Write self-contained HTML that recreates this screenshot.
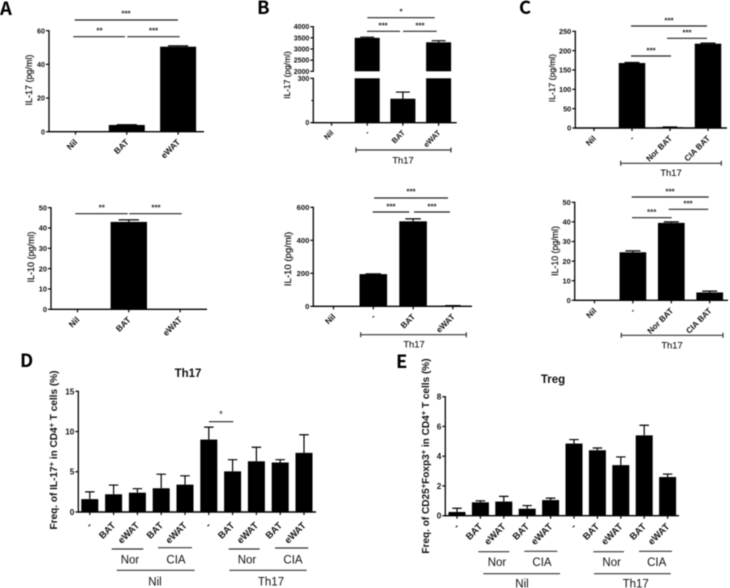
<!DOCTYPE html>
<html lang="en">
<head>
<meta charset="utf-8">
<title>Cytokine bar chart figure</title>
<style>
html,body{margin:0;padding:0;background:#fff;}
body{width:730px;height:588px;overflow:hidden;}
svg{display:block;filter:blur(0.4px);font-family:"Liberation Sans",sans-serif;}
.panel{font-family:"Noto Sans CJK KR","Liberation Sans",sans-serif;font-size:18.5px;font-weight:700;fill:#000;}
.ytitle{font-size:9px;fill:#111;text-anchor:middle;stroke:#111;stroke-width:0.2;}
.ytitle-big{font-size:10.05px;font-weight:700;fill:#111;text-anchor:middle;}
.star{font-size:8px;font-weight:700;fill:#333;text-anchor:middle;}
.group{font-size:11.5px;fill:#111;text-anchor:middle;}
.group-sm{font-size:9.4px;fill:#111;text-anchor:middle;stroke:#111;stroke-width:0.1;}
.chart-title{font-size:11.5px;font-weight:700;fill:#111;text-anchor:middle;}
.sig{stroke:#222;stroke-width:1.2;}
.grp{stroke:#333;stroke-width:1.2;}
</style>
</head>
<body>
<svg id="figure" width="730" height="588" viewBox="0 0 730 588" xmlns="http://www.w3.org/2000/svg">
<rect width="730" height="588" fill="#fff"/>

<text class="panel" x="0" y="15">A</text>
<text class="panel" x="257" y="14">B</text>
<text class="panel" x="519" y="14">C</text>
<text class="panel" x="20" y="367">D</text>
<text class="panel" x="396" y="368">E</text>

<text class="ytitle" style="font-size:9px" transform="translate(32,80) rotate(-90)">IL-17 (pg/ml)</text>
<text class="ytitle" style="font-size:9px" transform="translate(34,257) rotate(-90)">IL-10 (pg/ml)</text>
<text class="ytitle" style="font-size:8.4px" transform="translate(290,75) rotate(-90)">IL-17 (pg/ml)</text>
<text class="ytitle" style="font-size:9.6px" transform="translate(291,259) rotate(-90)">IL-10 (pg/ml)</text>
<text class="ytitle" style="font-size:8.5px" transform="translate(555,78) rotate(-90)">IL-17 (pg/ml)</text>
<text class="ytitle" style="font-size:8.8px" transform="translate(558,251) rotate(-90)">IL-10 (pg/ml)</text>
<text class="ytitle-big" transform="translate(57,450) rotate(-90)">Freq. of IL-17<tspan dy="-3" font-size="7.5">+</tspan><tspan dy="3"> in CD4</tspan><tspan dy="-3" font-size="7.5">+</tspan><tspan dy="3"> T cells (%)</tspan></text>
<text class="ytitle-big" transform="translate(429,456) rotate(-90)">Freq. of CD25<tspan dy="-3" font-size="7.5">+</tspan><tspan dy="3">Foxp3</tspan><tspan dy="-3" font-size="7.5">+</tspan><tspan dy="3"> in CD4</tspan><tspan dy="-3" font-size="7.5">+</tspan><tspan dy="3"> T cells (%)</tspan></text>

<text class="chart-title" x="188" y="377">Th17</text>
<text class="chart-title" x="553" y="383">Treg</text>

<g>
<line class="sig" x1="74.7" x2="178" y1="20" y2="20"/><text class="star" x="126" y="16.5">***</text>
<line class="sig" x1="73.3" x2="125" y1="36.7" y2="36.7"/><text class="star" x="99.5" y="33.5">**</text>
<line class="sig" x1="127.3" x2="179.7" y1="36.7" y2="36.7"/><text class="star" x="153.5" y="33.5">***</text>
</g>
<g>
<line class="sig" x1="75.3" x2="127.7" y1="213.7" y2="213.7"/><text class="star" x="101.7" y="210.5">**</text>
<line class="sig" x1="129.3" x2="181.7" y1="213.7" y2="213.7"/><text class="star" x="156" y="210.5">***</text>
</g>
<g>
<line class="sig" x1="367.3" x2="434.7" y1="17.7" y2="17.7"/><text class="star" x="401" y="14.5">*</text>
<line class="sig" x1="367" x2="400" y1="31.3" y2="31.3"/><text class="star" x="383" y="28.5">***</text>
<line class="sig" x1="403" x2="436.7" y1="31.3" y2="31.3"/><text class="star" x="420" y="28.5">***</text>
</g>
<g>
<line class="sig" x1="374" x2="448" y1="198" y2="198"/><text class="star" x="411" y="194.5">***</text>
<line class="sig" x1="372.7" x2="409.3" y1="212" y2="212"/><text class="star" x="391" y="209.5">***</text>
<line class="sig" x1="414" x2="450" y1="212" y2="212"/><text class="star" x="432" y="209.5">***</text>
</g>
<g>
<line class="sig" x1="631" x2="707" y1="26" y2="26"/><text class="star" x="669" y="23.5">***</text>
<line class="sig" x1="667" x2="707" y1="38.3" y2="38.3"/><text class="star" x="687" y="35.5">***</text>
<line class="sig" x1="631" x2="671" y1="56" y2="56"/><text class="star" x="651" y="53.5">***</text>
</g>
<g>
<line class="sig" x1="631.7" x2="708.7" y1="197" y2="197"/><text class="star" x="670" y="194.5">***</text>
<line class="sig" x1="668.7" x2="708.3" y1="209.3" y2="209.3"/><text class="star" x="688" y="206.5">***</text>
<line class="sig" x1="632" x2="671.7" y1="217.7" y2="217.7"/><text class="star" x="651.7" y="215">***</text>
</g>
<g>
<line class="sig" x1="209" x2="233.3" y1="421.7" y2="421.7"/><text class="star" x="221" y="417.5" style="font-size:10px;font-weight:400">*</text>
</g>

<g>
<path class="grp" fill="none" d="M356 147.5V152.5M356 150H451M451 147.5V152.5"/><text class="group-sm" x="403" y="163.5">Th17</text>
</g>
<g>
<path class="grp" fill="none" d="M360.7 332.2V337.2M360.7 334.7H466.3M466.3 332.2V337.2"/><text class="group-sm" x="414" y="347.5">Th17</text>
</g>
<g>
<path class="grp" fill="none" d="M620.7 160.8V165.8M620.7 163.3H721.3M721.3 160.8V165.8"/><text class="group-sm" x="671" y="176">Th17</text>
</g>
<g>
<path class="grp" fill="none" d="M621.3 332.8V337.8M621.3 335.3H723M723 332.8V337.8"/><text class="group-sm" x="672" y="348.5">Th17</text>
</g>

<g>
<line class="grp" x1="111.7" x2="143.3" y1="549" y2="549"/><text class="group" x="130" y="563.5">Nor</text>
<line class="grp" x1="158" x2="192" y1="547.7" y2="547.7"/><text class="group" x="176" y="563.5">CIA</text>
<line class="grp" x1="116.7" x2="194.7" y1="570.3" y2="570.3"/><text class="group" x="155" y="585.5">Nil</text>
<line class="grp" x1="228.7" x2="259.7" y1="549" y2="549"/><text class="group" x="247" y="563.5">Nor</text>
<line class="grp" x1="275" x2="308.3" y1="548" y2="548"/><text class="group" x="293" y="563.5">CIA</text>
<line class="grp" x1="229.3" x2="306.7" y1="570.3" y2="570.3"/><text class="group" x="271" y="585.5">Th17</text>
</g>
<g>
<line class="grp" x1="478.3" x2="509.3" y1="551.7" y2="551.7"/><text class="group" x="497" y="566">Nor</text>
<line class="grp" x1="524.3" x2="557.3" y1="551.3" y2="551.3"/><text class="group" x="542" y="566">CIA</text>
<line class="grp" x1="483.3" x2="560" y1="573.7" y2="573.7"/><text class="group" x="522" y="587.5">Nil</text>
<line class="grp" x1="593.3" x2="624" y1="551.7" y2="551.7"/><text class="group" x="611.7" y="566">Nor</text>
<line class="grp" x1="639" x2="672" y1="551.3" y2="551.3"/><text class="group" x="656.7" y="566">CIA</text>
<line class="grp" x1="594" x2="670.7" y1="573.7" y2="573.7"/><text class="group" x="635.7" y="587.5">Th17</text>
</g>
</svg>

<script>
// ---- Chart data ----
const categoriesA = ['Nil', 'BAT', 'eWAT'];
const il17ValuesA = [0, 4, 50.5];
const il17ErrorsA = [0, 0.15, 0.5];
const il17TicksA = [0, 20, 40, 60];
const il10ValuesA = [0, 43, 0];
const il10ErrorsA = [0, 1, 0];
const il10TicksA = [0, 10, 20, 30, 40, 50];

const categoriesB = ['Nil', '-', 'BAT', 'eWAT'];
const il17ValuesB = [0, 3500, 162, 3300];
const il17ErrorsB = [0, 30, 45, 72];
const il17TicksB = [0, 300, 2000, 2500, 3000, 3500, 4000];
const il17MinorTicksB = [150];
const il10ValuesB = [0, 195, 515, 3];
const il10ErrorsB = [0, 2, 15, 1];
const il10TicksB = [0, 200, 400, 600];

const categoriesC = ['Nil', '-', 'Nor BAT', 'CIA BAT'];
const il17ValuesC = [0, 168, 2, 218];
const il17ErrorsC = [0, 1.5, 0.5, 1.5];
const il17TicksC = [0, 50, 100, 150, 200, 250];
const il10ValuesC = [0, 24.5, 39.5, 4];
const il10ErrorsC = [0, 0.7, 0.5, 0.7];
const il10TicksC = [0, 10, 20, 30, 40, 50];

const categoriesDE = ['-', 'BAT', 'eWAT', 'BAT', 'eWAT', '-', 'BAT', 'eWAT', 'BAT', 'eWAT'];
const th17Values = [1.6, 2.2, 2.4, 2.95, 3.4, 9, 5.05, 6.3, 6.15, 7.35];
const th17Errors = [0.9, 1.15, 0.5, 1.75, 1.1, 1.55, 1.45, 1.75, 0.35, 2.25];
const th17Ticks = [0, 5, 10, 15];
const tregValues = [0.25, 0.9, 0.95, 0.47, 1.05, 4.85, 4.4, 3.4, 5.4, 2.6];
const tregErrors = [0.25, 0.1, 0.35, 0.21, 0.13, 0.27, 0.15, 0.55, 0.68, 0.2];
const tregTicks = [0, 2, 4, 6, 8];

// ---- Drawing helpers ----
const NS = 'http://www.w3.org/2000/svg';
const figure = document.getElementById('figure');

function addShape(parent, tag, name, props, text) {
  const el = document.createElementNS(NS, tag);
  
  
  for (const key in props) el.setAttribute(key, props[key]);
  if (text !== undefined) el.textContent = text;
  parent.appendChild(el);
  return el;
}

function makeYScale(bands) {
  return function (v) {
    let band = bands[0];
    for (const b of bands) if (v >= b.min) band = b;
    const clamped = Math.min(v, band.max);
    return band.bottom - (clamped - band.min) / (band.max - band.min) * (band.bottom - band.top);
  };
}

function drawBarChart(c) {
  const g = addShape(figure, 'g', c.name, {});
  const yScale = makeYScale(c.bands);
  const xScale = function (i) { return c.firstCenter + i * c.step; };
  const axisY = c.bands[0].bottom;
  const tickFont = c.tickFont;
  const xFont = c.xFont;

  // bars
  c.values.forEach(function (v, i) {
    c.bands.forEach(function (band) {
      if (v <= band.min) return;
      const top = yScale(Math.min(v, band.max));
      addShape(g, 'rect', 'bar-' + c.categories[i], {
        x: xScale(i) - c.barWidth / 2,
        y: top,
        width: c.barWidth,
        height: band.bottom - top,
        fill: '#000'
      });
    });
    const err = c.errors[i];
    if (err > 0) {
      const yt = yScale(v + err);
      const yb = yScale(v);
      const cap = c.barWidth * 0.28;
      addShape(g, 'path', 'error-bar-' + c.categories[i], {
        d: 'M' + xScale(i) + ' ' + yb + 'V' + yt + 'M' + (xScale(i) - cap) + ' ' + yt + 'H' + (xScale(i) + cap),
        stroke: '#000',
        'stroke-width': 1.2,
        fill: 'none'
      });
    }
  });

  // y axis
  c.bands.forEach(function (band) {
    addShape(g, 'line', 'y-axis-line', {
      x1: c.axisX, x2: c.axisX, y1: band.bottom + 0.6, y2: band.top - 0.6,
      stroke: '#000', 'stroke-width': 1.3
    });
  });
  c.ticks.forEach(function (t) {
    const y = yScale(t);
    addShape(g, 'line', 'y-tick', {
      x1: c.axisX - 3, x2: c.axisX, y1: y, y2: y,
      stroke: '#000', 'stroke-width': 1.2
    });
    addShape(g, 'text', 'y-tick-label', {
      x: c.axisX - 4, y: y + tickFont * 0.36,
      'text-anchor': 'end', 'font-size': tickFont, 'font-weight': 700, fill: '#111'
    }, String(t));
  });
  (c.minorTicks || []).forEach(function (t) {
    const y = yScale(t);
    addShape(g, 'line', 'y-minor-tick', {
      x1: c.axisX - 2, x2: c.axisX, y1: y, y2: y,
      stroke: '#000', 'stroke-width': 1
    });
  });

  // x axis
  addShape(g, 'line', 'x-axis-line', {
    x1: c.axisX - 0.6, x2: c.axisEnd, y1: axisY, y2: axisY,
    stroke: '#000', 'stroke-width': 1.4
  });
  c.categories.forEach(function (label, i) {
    const x = xScale(i);
    addShape(g, 'line', 'x-tick', {
      x1: x, x2: x, y1: axisY, y2: axisY + 3,
      stroke: '#000', 'stroke-width': 1.2
    });
    const lx = x + 2.5;
    const ly = axisY + c.labelDrop;
    addShape(g, 'text', 'x-tick-label', {
      x: lx, y: ly,
      'text-anchor': 'end', 'font-size': xFont, 'font-weight': 700, fill: '#111',
      transform: 'rotate(-45 ' + lx + ' ' + ly + ')'
    }, label);
  });
}

// ---- Charts ----
drawBarChart({
  name: 'chart-a-il17', categories: categoriesA, values: il17ValuesA, errors: il17ErrorsA, ticks: il17TicksA,
  tickFont: 7.2, xFont: 8.5, labelDrop: 11,
  axisX: 49, axisEnd: 204, firstCenter: 75.5, step: 51.3, barWidth: 36,
  bands: [{ min: 0, max: 60, bottom: 131.7, top: 30.7 }]
});
drawBarChart({
  name: 'chart-a-il10', categories: categoriesA, values: il10ValuesA, errors: il10ErrorsA, ticks: il10TicksA,
  tickFont: 7.4, xFont: 8.5, labelDrop: 11,
  axisX: 51, axisEnd: 207, firstCenter: 77.5, step: 51.3, barWidth: 36.4,
  bands: [{ min: 0, max: 50, bottom: 309.3, top: 207.7 }]
});
drawBarChart({
  name: 'chart-b-il17', categories: categoriesB, values: il17ValuesB, errors: il17ErrorsB, ticks: il17TicksB,
  minorTicks: il17MinorTicksB, tickFont: 7, xFont: 7.6, labelDrop: 10.5,
  axisX: 313.3, axisEnd: 456.7, firstCenter: 331.5, step: 35.7, barWidth: 25,
  bands: [{ min: 0, max: 300, bottom: 122.7, top: 78.3 }, { min: 2000, max: 4000, bottom: 71.3, top: 26.7 }]
});
drawBarChart({
  name: 'chart-b-il10', categories: categoriesB, values: il10ValuesB, errors: il10ErrorsB, ticks: il10TicksB,
  tickFont: 7.6, xFont: 8.3, labelDrop: 11,
  axisX: 313.3, axisEnd: 472, firstCenter: 333.5, step: 39.8, barWidth: 27.6,
  bands: [{ min: 0, max: 600, bottom: 306.3, top: 207.3 }]
});
drawBarChart({
  name: 'chart-c-il17', categories: categoriesC, values: il17ValuesC, errors: il17ErrorsC, ticks: il17TicksC,
  tickFont: 7.4, xFont: 8.2, labelDrop: 11,
  axisX: 575.3, axisEnd: 727, firstCenter: 594, step: 38, barWidth: 26.5,
  bands: [{ min: 0, max: 250, bottom: 128, top: 31.3 }]
});
drawBarChart({
  name: 'chart-c-il10', categories: categoriesC, values: il10ValuesC, errors: il10ErrorsC, ticks: il10TicksC,
  tickFont: 7.4, xFont: 8.2, labelDrop: 11,
  axisX: 574.7, axisEnd: 728, firstCenter: 594.5, step: 38.4, barWidth: 26.7,
  bands: [{ min: 0, max: 50, bottom: 300.3, top: 202.3 }]
});
drawBarChart({
  name: 'chart-d-th17', categories: categoriesDE, values: th17Values, errors: th17Errors, ticks: th17Ticks,
  tickFont: 8.2, xFont: 9.5, labelDrop: 14,
  axisX: 78.3, axisEnd: 316, firstCenter: 89.8, step: 23.8, barWidth: 17,
  bands: [{ min: 0, max: 15, bottom: 512, top: 391.3 }]
});
drawBarChart({
  name: 'chart-e-treg', categories: categoriesDE, values: tregValues, errors: tregErrors, ticks: tregTicks,
  tickFont: 8.2, xFont: 9.5, labelDrop: 11.5,
  axisX: 445.3, axisEnd: 679, firstCenter: 457, step: 23.4, barWidth: 17,
  bands: [{ min: 0, max: 8, bottom: 515.7, top: 396.7 }]
});
</script>
</body>
</html>
